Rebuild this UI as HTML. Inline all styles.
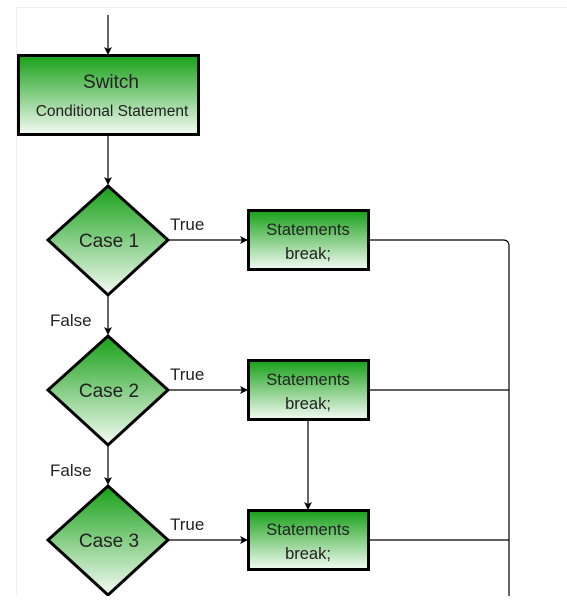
<!DOCTYPE html>
<html><head><style>body{margin:0;background:#fff}</style></head><body>
<svg width="567" height="596" xmlns="http://www.w3.org/2000/svg" font-family="Liberation Sans, sans-serif">
<defs>
<linearGradient id="g" x1="0" y1="0" x2="0" y2="1"><stop offset="0" stop-color="#17a017"/><stop offset="1" stop-color="#f4fbf4"/></linearGradient>
<marker id="a" markerWidth="8" markerHeight="8" refX="7" refY="4" orient="auto" markerUnits="userSpaceOnUse"><path d="M0,0 L8,4 L0,8 L2,4 z" fill="#000"/></marker>
</defs>
<rect x="16.5" y="7.5" width="560" height="600" fill="none" stroke="#f0f0f0"/>
<g stroke="#000" stroke-width="1.2" fill="none">
<line x1="108" y1="15" x2="108" y2="54" marker-end="url(#a)"/>
<line x1="108" y1="136" x2="108" y2="184" marker-end="url(#a)"/>
<line x1="108" y1="296" x2="108" y2="334" marker-end="url(#a)"/>
<line x1="108" y1="446" x2="108" y2="484" marker-end="url(#a)"/>
<line x1="169" y1="240" x2="247" y2="240" marker-end="url(#a)"/>
<line x1="169" y1="390" x2="247" y2="390" marker-end="url(#a)"/>
<line x1="169" y1="540" x2="247" y2="540" marker-end="url(#a)"/>
<line x1="308" y1="421" x2="308" y2="509" marker-end="url(#a)"/>
<path d="M370,240 H503 Q509,240 509,246 V596"/>
<line x1="370" y1="390" x2="509" y2="390"/>
<line x1="370" y1="540" x2="509" y2="540"/>
</g>
<g stroke="#000" stroke-width="3" fill="url(#g)">
<rect x="18.5" y="55.5" width="180" height="79"/>
<rect x="248.5" y="210.5" width="120" height="59"/>
<rect x="248.5" y="360.5" width="120" height="59"/>
<rect x="248.5" y="510.5" width="120" height="59"/>
<path d="M108,186 L168,240 L108,295 L48,240 Z"/>
<path d="M108,336 L168,390 L108,445 L48,390 Z"/>
<path d="M108,486 L168,540 L108,595 L48,540 Z"/>
</g>
<g fill="#222" text-anchor="middle">
<text x="111" y="88" font-size="19">Switch</text>
<text x="112" y="116" font-size="15.5">Conditional Statement</text>
<text x="109" y="247" font-size="19">Case 1</text>
<text x="109" y="397" font-size="19">Case 2</text>
<text x="109" y="547" font-size="19">Case 3</text>
<text x="308" y="235" font-size="16.5">Statements</text>
<text x="308" y="259" font-size="16.5">break;</text>
<text x="308" y="385" font-size="16.5">Statements</text>
<text x="308" y="409" font-size="16.5">break;</text>
<text x="308" y="535" font-size="16.5">Statements</text>
<text x="308" y="559" font-size="16.5">break;</text>
</g>
<g fill="#222" font-size="17">
<text x="170" y="230">True</text>
<text x="170" y="380">True</text>
<text x="170" y="530">True</text>
<text x="50" y="326">False</text>
<text x="50" y="476">False</text>
</g>
</svg>
</body></html>
